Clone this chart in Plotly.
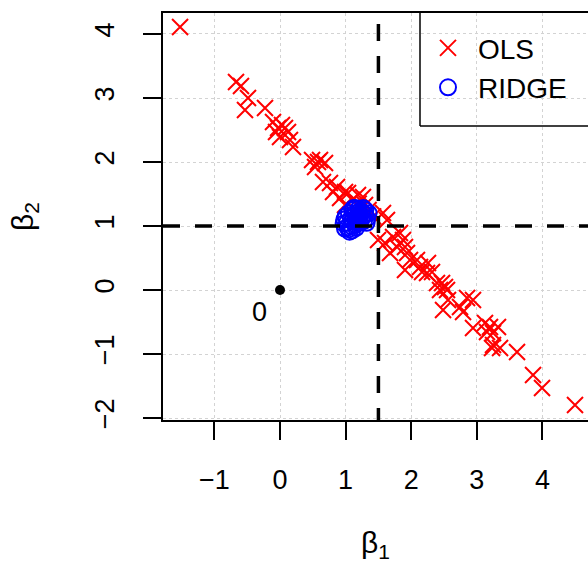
import plotly.graph_objects as go

# OLS estimates (beta1, beta2)
ols_b1 = [-1.524, -0.671, -0.595, -0.488, -0.534, -0.229, -0.107, -0.030, 0.030, -0.061,
          0.076, 0.000, 0.122, 0.198, 0.152, 0.488, 0.579, 0.686, 0.534, 0.610,
          0.655, 0.762, 0.869, 0.808, 0.991, 1.037, 0.915, 1.098, 1.189, 1.265,
          1.296, 0.991, 1.143, 1.200, 1.350, 1.420,
          1.570, 1.631, 1.494, 1.601, 1.723, 1.829, 1.905, 1.784, 1.677, 1.875,
          1.936, 1.982, 1.905, 2.088, 2.134, 2.256, 2.241, 2.165, 2.317, 2.393,
          2.470, 2.515, 2.439, 2.546, 2.561, 2.485, 2.744, 2.851, 2.942, 2.790,
          2.942, 3.125, 3.201, 3.323, 3.155, 3.247, 3.247, 3.354, 3.232, 3.613,
          3.857, 3.994, 4.497]
ols_b2 = [4.109, 3.250, 3.188, 3.000, 2.813, 2.844, 2.625, 2.531, 2.578, 2.469,
          2.531, 2.391, 2.469, 2.234, 2.344, 2.031, 2.000, 1.984, 1.922, 2.031,
          1.688, 1.672, 1.609, 1.531, 1.531, 1.516, 1.438, 1.406, 1.484, 1.453,
          1.328, 1.328, 1.250, 1.350, 1.250, 1.150,
          1.203, 1.094, 0.781, 0.734, 0.828, 0.891, 0.672, 0.672, 0.578, 0.781,
          0.578, 0.469, 0.313, 0.469, 0.359, 0.422, 0.266, 0.281, 0.281, 0.109,
          0.109, 0.047, 0.000, 0.000, -0.156, -0.313, -0.266, -0.125, -0.156, -0.344,
          -0.594, -0.516, -0.578, -0.578, -0.656, -0.672, -0.859, -0.906, -0.906, -0.969,
          -1.328, -1.531, -1.797]

# Ridge estimates (beta1, beta2)
ridge_b1 = [1.10, 1.15, 1.20, 1.25, 1.30, 1.33, 1.28, 1.22, 1.15, 1.08,
            1.02, 0.98, 1.00, 1.05, 1.12, 1.18, 1.22, 1.26, 1.10, 1.05,
            1.10, 1.16, 1.35, 1.30, 1.20, 1.14, 1.08, 1.03, 1.24, 1.18,
            0.97, 1.12, 1.27, 1.32, 1.20, 1.15, 0.99, 1.06]
ridge_b2 = [1.25, 1.28, 1.27, 1.22, 1.18, 1.12, 1.08, 1.05, 1.02, 1.00,
            1.05, 1.10, 1.15, 1.20, 1.15, 1.12, 1.18, 1.15, 1.08, 0.95,
            0.93, 0.97, 1.20, 1.25, 1.22, 1.20, 1.12, 0.98, 1.10, 1.05,
            1.04, 1.28, 1.28, 1.05, 1.15, 1.10, 0.96, 0.91]

true_b1 = 1.5
true_b2 = 1.0
origin = [0]

x_ticks = [-1, 0, 1, 2, 3, 4]
y_ticks = [-2, -1, 0, 1, 2, 3, 4]

X_RANGE = [-1.784, 4.695]
Y_RANGE = [-2.031, 4.328]

FONT = "Liberation Sans, Arial, sans-serif"

fig = go.Figure()
fig.add_trace(go.Scatter(x=ols_b1, y=ols_b2, mode="markers", name="OLS",
                         marker=dict(symbol="x-thin", size=16, color="#FF0000",
                                     line=dict(color="#FF0000", width=2))))
fig.add_trace(go.Scatter(x=ridge_b1, y=ridge_b2, mode="markers", name="RIDGE",
                         marker=dict(symbol="circle-open", size=16, color="#0000FF",
                                     line=dict(color="#0000FF", width=2))))
fig.add_trace(go.Scatter(x=origin, y=origin, mode="markers", showlegend=False,
                         marker=dict(symbol="circle", size=10, color="black")))

fig.add_annotation(x=origin[0], y=origin[0], text="0", showarrow=False,
                   xshift=-21, yshift=-22, font=dict(size=27, color="black", family=FONT))

dash = "17px,15px"
fig.add_shape(type="line", xref="x", yref="y", x0=true_b1, x1=true_b1,
              y0=Y_RANGE[0] - 0.08, y1=Y_RANGE[1] + 0.5,
              line=dict(color="black", width=3.5, dash=dash))
fig.add_shape(type="line", xref="x", yref="y", x0=X_RANGE[0], x1=X_RANGE[1] + 0.5,
              y0=true_b2, y1=true_b2,
              line=dict(color="black", width=3.5, dash=dash))

# legend frame (left, bottom; top coincides with plot border)
lx0 = (420 - 163) / 425
ly0 = (420 - 126) / 407
for (a, b, c, d) in [(lx0, ly0, lx0, 1), (lx0, ly0, 1, ly0)]:
    fig.add_shape(type="line", xref="paper", yref="paper", x0=a, y0=b, x1=c, y1=d,
                  line=dict(color="black", width=1.5))

axis_common = dict(showline=True, linecolor="black", linewidth=1.5,
                   ticks="outside", ticklen=18, tickwidth=1.5, tickcolor="black",
                   showgrid=True, gridcolor="#D3D3D3", griddash="dot", gridwidth=1,
                   zeroline=False, tickfont=dict(size=27, color="black", family=FONT))

fig.update_xaxes(range=X_RANGE, tickvals=x_ticks, mirror=True,
                 ticklabelstandoff=17,
                 title=dict(text="β<sub>1</sub>", font=dict(size=30, color="black", family=FONT),
                            standoff=38), **axis_common)
fig.update_yaxes(range=Y_RANGE, tickvals=y_ticks, tickangle=-90,
                 ticklabelstandoff=18,
                 title=dict(text="β<sub>2</sub>", font=dict(size=30, color="black", family=FONT),
                            standoff=48), **axis_common)

fig.update_layout(width=588, height=566, margin=dict(l=163, r=0, t=13, b=146),
                  paper_bgcolor="white", plot_bgcolor="white",
                  font=dict(family=FONT, color="black"),
                  legend=dict(x=(418 - 163) / 425, y=0.975, xanchor="left", yanchor="top",
                              bgcolor="rgba(0,0,0,0)", borderwidth=0, itemwidth=50,
                              font=dict(size=28, color="black", family=FONT)))

fig.write_html("out.html")
